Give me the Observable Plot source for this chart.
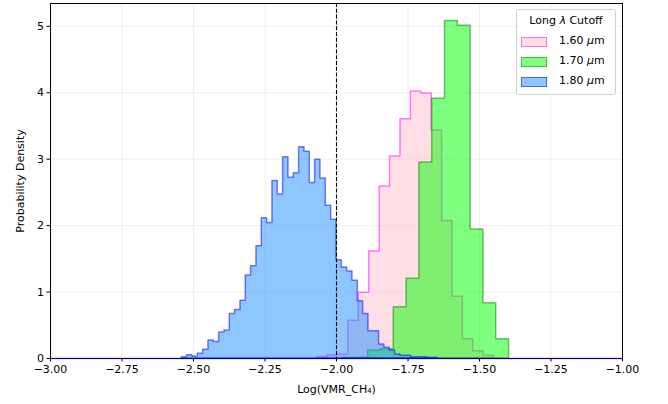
<!DOCTYPE html>
<html>
<head>
<meta charset="utf-8">
<script src="https://cdn.jsdelivr.net/npm/d3@7"></script>
<script src="https://cdn.jsdelivr.net/npm/@observablehq/plot@0.6"></script>
<style>
  html, body { margin: 0; padding: 0; background: #fff; }
  #wrap { position: relative; width: 668px; height: 404px; font-family: "DejaVu Sans", sans-serif; }
  #legend {
    position: absolute; left: 516px; top: 9px; width: 100px; height: 86px;
    box-sizing: border-box; border: 1px solid #d0d0d0; border-radius: 3px;
    background: rgba(255,255,255,0.85); font-size: 11px; color: #000;
  }
  #legend .title { position: absolute; left: 0; width: 100%; top: 4px; text-align: center; }
  #legend .row { position: absolute; left: 4px; height: 12px; }
  #legend .sw { position: absolute; left: 0; top: 1px; width: 24px; height: 8px; box-sizing: content-box; }
  #legend .lab { position: absolute; left: 38px; top: -2px; white-space: nowrap; }
</style>
</head>
<body>
<div id="wrap"></div>
<script>
// ---- data (probability density per bin) ----
const seriesNames = ["1.60 μm", "1.70 μm", "1.80 μm"];
const legendTitle = "Long λ Cutoff";

const pinkStart = -2.0676;
const pinkWidth = 0.0364;
const pinkDensity = [0.02, 0.05, 0.06, 0.57, 0.99, 1.61, 2.59, 3.04, 3.60, 4.02, 3.99, 3.43, 2.07, 0.93, 0.29, 0.11, 0.04];

const greenStart = -1.979;
const greenWidth = 0.0448;
const greenDensity = [0.01, 0.01, 0.12, 0.14, 0.77, 1.20, 2.95, 3.91, 5.08, 5.01, 1.94, 0.83, 0.29];

const blueStart = -2.541;
const blueWidth = 0.01865;
const blueDensity = [0.02, 0.05, 0.03, 0.07, 0.13, 0.27, 0.25, 0.39, 0.42, 0.67, 0.73, 0.87, 1.25, 1.39, 1.69,
  2.11, 2.04, 2.67, 2.47, 3.03, 2.72, 2.79, 3.18, 3.11, 2.64, 2.99, 2.71, 2.30, 2.09,
  1.48, 1.37, 1.31, 1.17, 0.86, 0.67, 0.41, 0.41, 0.21, 0.16, 0.12, 0.06, 0.04, 0.04, 0.02, 0.02, 0.02, 0.01, 0.01];

const referenceValue = [-2.0];
const xTicks = [-3.0, -2.75, -2.5, -2.25, -2.0, -1.75, -1.5, -1.25, -1.0];
const yTicks = [0, 1, 2, 3, 4, 5];
const xDomain = [-3, -1];
const yDomain = [0, 5.343];

// ---- styles ----
const styles = [
  {fill: "pink", stroke: "magenta"},
  {fill: "lime", stroke: "green"},
  {fill: "dodgerblue", stroke: "blue"}
];

// build step outline (stepfilled histogram polygon)
function stepOutline(start, width, dens) {
  const pts = [{x: start, y: 0}];
  dens.forEach((d, i) => {
    pts.push({x: start + i * width, y: d});
    pts.push({x: start + (i + 1) * width, y: d});
  });
  pts.push({x: start + dens.length * width, y: 0});
  return pts;
}

const hists = [
  stepOutline(pinkStart, pinkWidth, pinkDensity),
  stepOutline(greenStart, greenWidth, greenDensity),
  stepOutline(blueStart, blueWidth, blueDensity)
];

const fmt = d => (d < 0 ? "\u2212" : "") + Math.abs(d).toFixed(2);

const chart = Plot.plot({
  width: 668,
  height: 404,
  marginLeft: 50,
  marginRight: 46,
  marginTop: 3,
  marginBottom: 46,
  style: {fontFamily: "DejaVu Sans, sans-serif", fontSize: "11px", color: "#000", background: "#fff"},
  x: {domain: xDomain},
  y: {domain: yDomain},
  marks: [
    Plot.gridX(xTicks, {stroke: "#b0b0b0", strokeOpacity: 0.25, strokeWidth: 0.8}),
    Plot.gridY(yTicks, {stroke: "#b0b0b0", strokeOpacity: 0.25, strokeWidth: 0.8}),
    ...hists.map((h, i) => Plot.areaY(h, {
      x: "x", y1: 0, y2: "y", curve: "linear",
      fill: styles[i].fill, fillOpacity: 0.5,
      stroke: styles[i].stroke, strokeOpacity: 0.5, strokeWidth: 1.5
    })),
    Plot.ruleX(referenceValue, {stroke: "#000", strokeWidth: 1.1, strokeDasharray: "4,1.8"}),
    Plot.frame({stroke: "#000", strokeWidth: 1}),
    Plot.ruleY([0], {stroke: "blue", strokeOpacity: 0.5, strokeWidth: 1.5}),
    Plot.axisX(xTicks, {tickFormat: fmt, tickSize: 3.5, tickPadding: 3, fontSize: 11,
      label: "Log(VMR_CH₄)", labelAnchor: "center", labelArrow: "none", labelOffset: 34}),
    Plot.axisY(yTicks, {tickFormat: d => String(d), tickSize: 3.5, tickPadding: 3, fontSize: 11,
      label: "Probability Density", labelAnchor: "center", labelArrow: "none", labelOffset: 34})
  ]
});

const wrap = document.getElementById("wrap");
wrap.appendChild(chart);

// legend overlay
const leg = document.createElement("div");
leg.id = "legend";
const t = document.createElement("div");
t.className = "title";
t.innerHTML = legendTitle.replace("λ", "<i>λ</i>");
leg.appendChild(t);
seriesNames.forEach((name, i) => {
  const row = document.createElement("div");
  row.className = "row";
  row.style.top = (26 + i * 20) + "px";
  const sw = document.createElement("div");
  sw.className = "sw";
  const c = d3.color(styles[i].fill); c.opacity = 0.5;
  const s = d3.color(styles[i].stroke); s.opacity = 0.5;
  sw.style.background = c.formatRgb();
  sw.style.border = "1.5px solid " + s.formatRgb();
  row.appendChild(sw);
  const lab = document.createElement("div");
  lab.className = "lab";
  lab.innerHTML = name.replace("μ", "<i>μ</i>");
  row.appendChild(lab);
  leg.appendChild(row);
});
wrap.appendChild(leg);
</script>
</body>
</html>
